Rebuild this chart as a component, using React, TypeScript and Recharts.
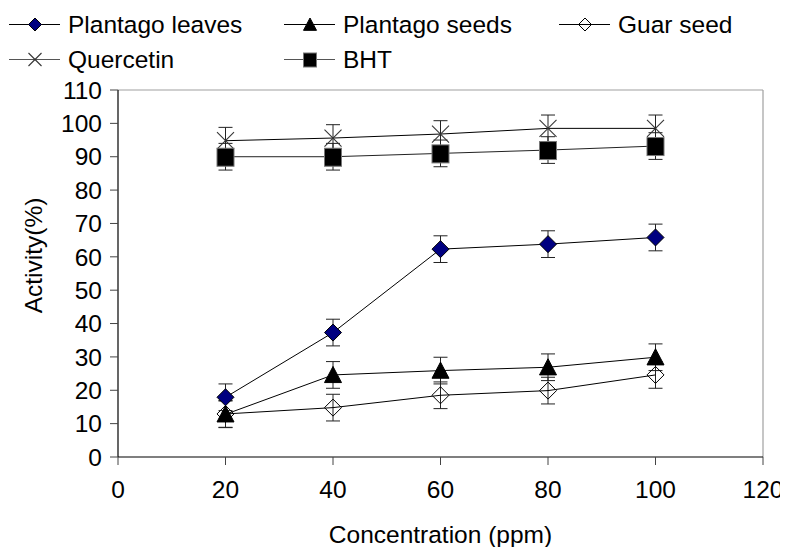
import React from "react";
import {
  LineChart,
  Line,
  XAxis,
  YAxis,
  ErrorBar,
  Legend,
  ReferenceLine,
} from "recharts";

const concentrations = [20, 40, 60, 80, 100];
const plantagoLeaves = [17.9, 37.3, 62.3, 63.8, 65.8];
const plantagoSeeds = [12.8, 24.6, 25.9, 26.9, 29.9];
const guarSeed = [12.9, 14.8, 18.5, 19.9, 24.6];
const quercetin = [94.8, 95.6, 96.8, 98.5, 98.5];
const bht = [90, 90, 91, 92, 93.2];

const errLeaves = [4, 4, 4, 4, 4];
const errSeeds = [4, 4, 4, 4, 4];
const errGuar = [4, 4, 4, 4, 4];
const errQuercetin = [4, 4, 4, 4, 4];
const errBht = [4, 4, 4, 4, 4];

const xTicks = [0, 20, 40, 60, 80, 100, 120];
const yTicks = [0, 10, 20, 30, 40, 50, 60, 70, 80, 90, 100, 110];

const seriesNames = ["Plantago leaves", "Plantago seeds", "Guar seed", "Quercetin", "BHT"];
const seriesShapes = ["diamondNavy", "triangle", "diamondOpen", "cross", "square"];

const data = concentrations.map((c, i) => ({
  x: c,
  leaves: plantagoLeaves[i],
  leavesErr: errLeaves[i],
  seeds: plantagoSeeds[i],
  seedsErr: errSeeds[i],
  guar: guarSeed[i],
  guarErr: errGuar[i],
  quer: quercetin[i],
  querErr: errQuercetin[i],
  bht: bht[i],
  bhtErr: errBht[i],
}));

const FONT = "'Liberation Sans', Arial, Helvetica, sans-serif";
const FS = 24.5;

function Marker({ shape, cx, cy, s }: { shape: string; cx: number; cy: number; s: number }) {
  if (shape === "diamondNavy" || shape === "diamondOpen") {
    const pts = `${cx},${cy - s} ${cx + s},${cy} ${cx},${cy + s} ${cx - s},${cy}`;
    return (
      <polygon
        points={pts}
        fill={shape === "diamondNavy" ? "#000080" : "#ffffff"}
        fillOpacity={shape === "diamondOpen" ? 0 : 1}
        stroke="#000"
        strokeWidth={1}
      />
    );
  }
  if (shape === "triangle") {
    const pts = `${cx},${cy - s} ${cx + s},${cy + s * 0.9} ${cx - s},${cy + s * 0.9}`;
    return <polygon points={pts} fill="#000" stroke="#000" strokeWidth={1} />;
  }
  if (shape === "square") {
    return (
      <rect x={cx - s} y={cy - s} width={2 * s} height={2 * s + 1} fill="#000" stroke="#777" strokeWidth={1} />
    );
  }
  return (
    <g stroke="#333" strokeWidth={1.1}>
      <line x1={cx - s} y1={cy - s} x2={cx + s} y2={cy + s} />
      <line x1={cx - s} y1={cy + s} x2={cx + s} y2={cy - s} />
    </g>
  );
}

const makeDot = (shape: string) => (props: any) => {
  const { cx, cy, index } = props;
  if (cx == null || cy == null) return <g key={`d-${shape}-${index}`} />;
  return (
    <g key={`d-${shape}-${index}`}>
      <Marker shape={shape} cx={cx} cy={cy} s={8.5} />
    </g>
  );
};

const CustomLegend = () => {
  const colX = [1, 276, 551];
  const rowY = [16.5, 51.5];
  return (
    <svg width={780} height={80} style={{ display: "block" }}>
      {seriesNames.map((name, i) => {
        const col = i < 3 ? i : i - 3;
        const row = i < 3 ? 0 : 1;
        const x0 = colX[col];
        const y = rowY[row];
        const lineColor = row === 0 ? "#000" : "#555";
        return (
          <g key={name}>
            <line x1={x0} y1={y} x2={x0 + 51} y2={y} stroke={lineColor} strokeWidth={1.2} />
            <Marker shape={seriesShapes[i]} cx={x0 + 26} cy={y} s={6.5} />
            <text x={x0 + 59} y={y + 8.7} fontFamily={FONT} fontSize={FS} fill="#000">
              {name}
            </text>
          </g>
        );
      })}
    </svg>
  );
};

const YLabel = (props: any) => {
  const vb = props.viewBox || {};
  const x = (vb.x || 0) + 25;
  const y = (vb.y || 0) + (vb.height || 0) / 2 - 18;
  return (
    <text
      x={x}
      y={y}
      transform={`rotate(-90 ${x} ${y})`}
      textAnchor="middle"
      dominantBaseline="central"
      fontFamily={FONT}
      fontSize={FS}
      fill="#000"
    >
      Activity(%)
    </text>
  );
};

export default function App() {
  const tickStyle = { fontFamily: FONT, fontSize: FS, fill: "#000" };
  return (
    <div style={{ width: 780, height: 539, fontFamily: FONT }}>
      <LineChart
        width={780}
        height={539}
        data={data}
        margin={{ top: 82, right: 25, bottom: 0, left: 0 }}
      >
        <XAxis
          type="number"
          dataKey="x"
          domain={[0, 120]}
          ticks={xTicks}
          interval={0}
          height={90}
          axisLine={{ stroke: "#000", strokeWidth: 1.2 }}
          tickLine={{ stroke: "#444" }}
          tickSize={8}
          tickMargin={16}
          tick={tickStyle}
          label={{
            value: "Concentration (ppm)",
            position: "insideBottom",
            offset: 4,
            style: { fontFamily: FONT, fontSize: FS, fill: "#000" },
          }}
        />
        <YAxis
          type="number"
          domain={[0, 110]}
          ticks={yTicks}
          interval={0}
          width={110}
          axisLine={{ stroke: "#000", strokeWidth: 1.2 }}
          tickLine={{ stroke: "#444" }}
          tickSize={8}
          tickMargin={8}
          tick={tickStyle}
          label={{ content: YLabel }}
        />
        <ReferenceLine y={110} stroke="#a0a0a0" strokeWidth={1.2} ifOverflow="visible" />
        <ReferenceLine x={120} stroke="#a0a0a0" strokeWidth={1.2} ifOverflow="visible" />
        <Legend
          verticalAlign="middle"
          align="center"
          layout="horizontal"
          wrapperStyle={{ top: 0, left: 0, width: 780, height: 80 }}
          content={<CustomLegend />}
        />
        <Line
          type="linear"
          dataKey="leaves"
          stroke="#000"
          strokeWidth={1}
          isAnimationActive={false}
          dot={makeDot("diamondNavy")}
          activeDot={false}
        >
          <ErrorBar dataKey="leavesErr" width={7} stroke="#222" strokeWidth={1} direction="y" />
        </Line>
        <Line
          type="linear"
          dataKey="seeds"
          stroke="#000"
          strokeWidth={1}
          isAnimationActive={false}
          dot={makeDot("triangle")}
          activeDot={false}
        >
          <ErrorBar dataKey="seedsErr" width={7} stroke="#222" strokeWidth={1} direction="y" />
        </Line>
        <Line
          type="linear"
          dataKey="guar"
          stroke="#000"
          strokeWidth={1}
          isAnimationActive={false}
          dot={makeDot("diamondOpen")}
          activeDot={false}
        >
          <ErrorBar dataKey="guarErr" width={7} stroke="#222" strokeWidth={1} direction="y" />
        </Line>
        <Line
          type="linear"
          dataKey="quer"
          stroke="#000"
          strokeWidth={1}
          isAnimationActive={false}
          dot={makeDot("cross")}
          activeDot={false}
        >
          <ErrorBar dataKey="querErr" width={7} stroke="#222" strokeWidth={1} direction="y" />
        </Line>
        <Line
          type="linear"
          dataKey="bht"
          stroke="#222"
          strokeWidth={1}
          isAnimationActive={false}
          dot={makeDot("square")}
          activeDot={false}
        >
          <ErrorBar dataKey="bhtErr" width={7} stroke="#222" strokeWidth={1} direction="y" />
        </Line>
      </LineChart>
    </div>
  );
}
